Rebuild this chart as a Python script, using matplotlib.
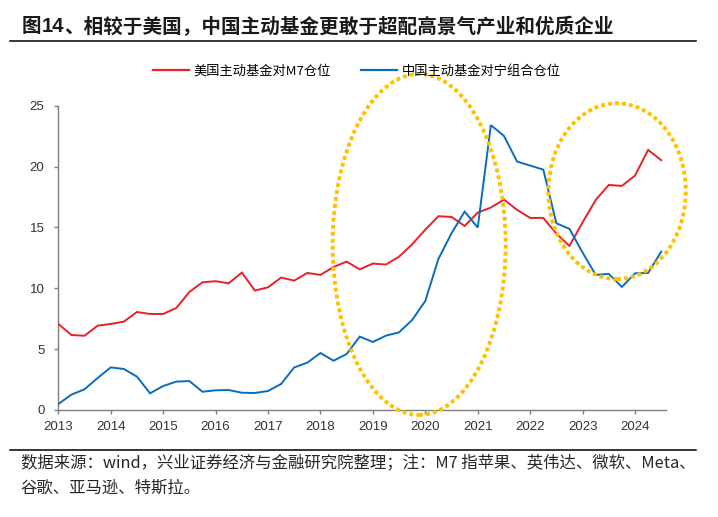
import matplotlib
matplotlib.use("Agg")
import matplotlib.pyplot as plt
from matplotlib.patches import Ellipse
from matplotlib.lines import Line2D
import numpy as np

# ---------------- data ----------------
years = ["2013", "2014", "2015", "2016", "2017", "2018", "2019", "2020",
         "2021", "2022", "2023", "2024"]
us_m7 = [7.07, 6.16, 6.10, 6.93, 7.07, 7.26, 8.05, 7.89, 7.89, 8.38,
         9.70, 10.49, 10.58, 10.41, 11.29, 9.81, 10.08, 10.88, 10.63, 11.26,
         11.10, 11.75, 12.19, 11.55, 12.03, 11.95, 12.60, 13.62, 14.82, 15.92,
         15.86, 15.12, 16.22, 16.63, 17.29, 16.44, 15.78, 15.78, 14.49, 13.48,
         15.42, 17.26, 18.49, 18.41, 19.26, 21.37, 20.52]
cn_ning = [0.49, 1.26, 1.70, 2.63, 3.50, 3.37, 2.74, 1.37, 1.97, 2.33,
           2.38, 1.50, 1.62, 1.64, 1.42, 1.40, 1.56, 2.14, 3.50, 3.89,
           4.68, 4.05, 4.60, 6.03, 5.59, 6.11, 6.38, 7.40, 8.96, 12.41,
           14.52, 16.30, 14.99, 23.40, 22.52, 20.41, 20.08, 19.75, 15.34, 14.88,
           12.93, 11.10, 11.18, 10.11, 11.23, 11.26, 13.01]
series_names = ["美国主动基金对M7仓位", "中国主动基金对宁组合仓位"]
title_text = ["图", "14", "、相较于美国，中国主动基金更敢于超配高景气产业和优质企业"]
note_lines = ["数据来源：wind，兴业证券经济与金融研究院整理；注：M7 指苹果、英伟达、微软、Meta、",
              "谷歌、亚马逊、特斯拉。"]

# ---------------- style ----------------
RED = "#E8202A"
BLUE = "#0A6CBF"
GOLD = "#FFC000"
CJK = ["Noto Sans CJK SC", "DejaVu Sans"]
LAT = ["Liberation Sans", "DejaVu Sans"]
W, H = 718, 517

fig = plt.figure(figsize=(W / 100, H / 100), dpi=100)
fig.patch.set_facecolor("white")

ax = fig.add_axes([58.3 / W, (H - 410) / H, (665.7 - 58.3) / W, (410 - 105.7) / H])

q = np.arange(len(us_m7))
ax.plot(q, us_m7, color=RED, lw=1.4, solid_joinstyle="miter", zorder=3)
ax.plot(q, cn_ning, color=BLUE, lw=1.4, solid_joinstyle="miter", zorder=3)

ax.set_xlim(0, 46.34)
ax.set_ylim(0, 25)
ax.set_xticks(np.arange(len(years)) * 4)
ax.set_xticklabels(years)
ax.set_yticks([0, 5, 10, 15, 20, 25])

for s in ["top", "right"]:
    ax.spines[s].set_visible(False)
for s in ["left", "bottom"]:
    ax.spines[s].set_color("#7f7f7f")
    ax.spines[s].set_linewidth(1.0)
ax.tick_params(axis="both", direction="out", length=3, width=1.0, color="#7f7f7f",
               labelsize=9.5, labelcolor="#333333")
ax.tick_params(axis="x", pad=5)
ax.tick_params(axis="y", pad=7)
for lab in ax.get_xticklabels() + ax.get_yticklabels():
    lab.set_family(LAT)

# dotted highlight ellipses (data coordinates)
for (xc, yc, w, h) in [(27.53, 13.6, 13.2, 28.0), (42.63, 17.98, 10.48, 14.44)]:
    e = Ellipse((xc, yc), w, h, fill=False, edgecolor=GOLD, lw=2.8,
                linestyle=(0, (1.0, 0.8)), clip_on=False, zorder=5)
    e.set_capstyle("butt")
    ax.add_patch(e)

# legend
handles = [Line2D([], [], color=RED, lw=1.6), Line2D([], [], color=BLUE, lw=1.6)]
fig.legend(handles, series_names, loc="center left",
           bbox_to_anchor=(153 / W, 1 - 71 / H), ncol=2, frameon=False,
           borderpad=0, borderaxespad=0, handlelength=2.73, handletextpad=0.3,
           columnspacing=2.35, prop={"family": CJK, "size": 9.5})

# title
x0 = 21.7 / W
ty = 1 - 26.7 / H
t1 = fig.text(x0, ty, title_text[0], family=CJK, fontsize=14.1, weight="bold",
              va="center", ha="left", color="#1a1a1a")
fig.canvas.draw()
r = fig.canvas.get_renderer()
bb = t1.get_window_extent(r)
t2 = fig.text(bb.x1 / W, ty, title_text[1], family=LAT, fontsize=14.6, weight="bold",
              va="center", ha="left", color="#1a1a1a")
bb2 = t2.get_window_extent(r)
fig.text(bb2.x1 / W, ty, title_text[2], family=CJK, fontsize=14.1, weight="bold",
         va="center", ha="left", color="#1a1a1a")

# rules
fig.add_artist(Line2D([10 / W, 696 / W], [1 - 41 / H, 1 - 41 / H], color="black", lw=1.1))
fig.add_artist(Line2D([10 / W, 696 / W], [1 - 450 / H, 1 - 450 / H], color="black", lw=1.1))

# footnote
fig.text(20.7 / W, 1 - 462.7 / H, note_lines[0], family=CJK, fontsize=11.8,
         va="center", ha="left", color="#262626")
fig.text(20.7 / W, 1 - 488 / H, note_lines[1], family=CJK, fontsize=11.8,
         va="center", ha="left", color="#262626")

fig.savefig("out.png", dpi=100, facecolor="white")
